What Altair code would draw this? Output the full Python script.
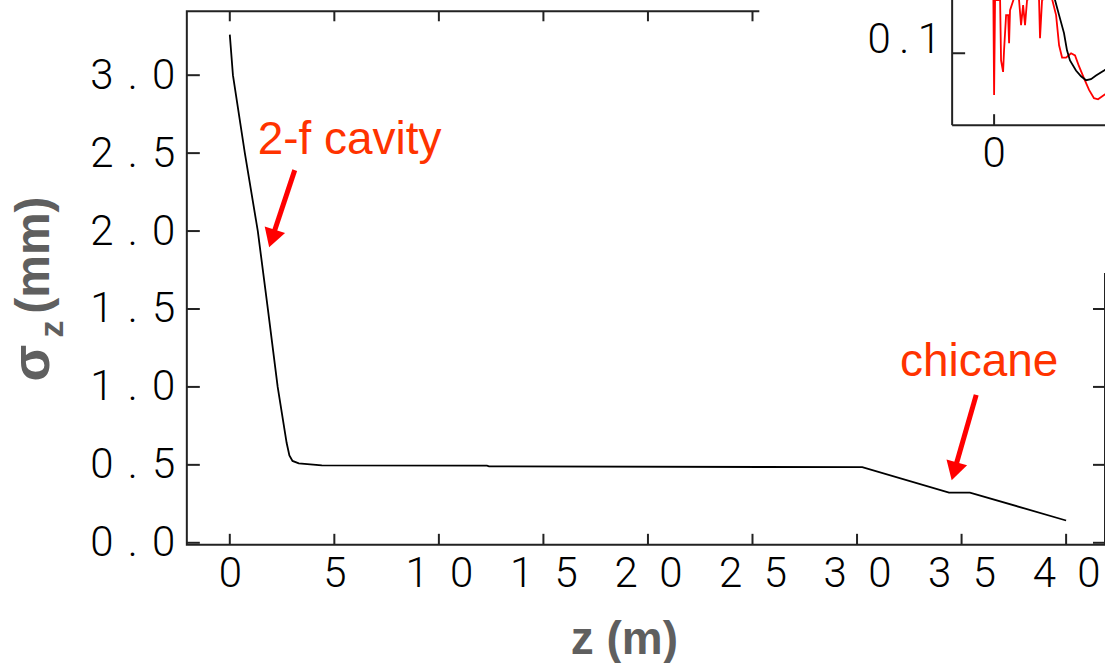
import altair as alt
import pandas as pd

# ---- main curve: bunch length along the beamline ----
z_vals = [0, 0.15, 0.72, 1.34, 1.82, 2.29, 2.72, 2.85, 3.0, 3.3, 4.4, 12.3, 12.4, 30.25, 34.4, 35.4, 40.0]
sigma_vals = [3.26, 3.0, 2.5, 2.0, 1.5, 1.0, 0.64, 0.56, 0.525, 0.51, 0.497, 0.495, 0.49, 0.485, 0.322, 0.322, 0.143]

x_ticks = [0, 5, 10, 15, 20, 25, 30, 35, 40]
y_ticks = [0.0, 0.5, 1.0, 1.5, 2.0, 2.5, 3.0]

# annotations (label, text position, arrow start, arrow head)
ann_labels = ["2-f cavity", "chicane"]
ann_z = [5.73, 35.84]
ann_s = [2.583, 1.160]
arrow_z0 = [3.106, 35.70]
arrow_s0 = [2.391, 0.949]
arrow_z1 = [2.065, 34.69]
arrow_s1 = [1.971, 0.478]

# ---- inset (partly off-page) ----
inset_red_x = [-0.083, -0.008, 0.0, 0.008, 0.05, 0.058, 0.075, 0.083, 0.1, 0.117, 0.125, 0.133, 0.175, 0.208,
               0.225, 0.242, 0.258, 0.275, 0.342, 0.375, 0.383, 0.4, 0.475, 0.517, 0.542, 0.567, 0.6, 0.642,
               0.675, 0.708, 0.75, 0.792, 0.833, 0.867, 0.917, 0.958]
inset_red_y = [0.215, 0.215, 0.042, 0.174, 0.174, 0.090, 0.074, 0.104, 0.153, 0.153, 0.114, 0.160, 0.181, 0.174,
               0.139, 0.167, 0.139, 0.174, 0.181, 0.174, 0.121, 0.174, 0.181, 0.153, 0.111, 0.094, 0.094, 0.100,
               0.097, 0.082, 0.065, 0.049, 0.0375, 0.036, 0.042, 0.046]
inset_black_x = [0.458, 0.508, 0.542, 0.583, 0.608, 0.633, 0.683, 0.725, 0.767, 0.808, 0.85, 0.917, 0.958]
inset_black_y = [0.215, 0.174, 0.153, 0.128, 0.104, 0.090, 0.076, 0.068, 0.0625, 0.064, 0.069, 0.076, 0.081]
inset_xtick = [0]
inset_ytick = [0.1]

X_DOM = [-2.055, 41.86]
Y_DOM = [-0.013, 3.41]
W, H = 919, 534
TICK_FONT = "Roboto"
TICK_W = 300
RED_TXT = "#ff3300"
GRAY = "#5f5f5f"
FRAME = "#222222"

curve_df = pd.DataFrame({"z": z_vals, "sigma": sigma_vals})
xt_df = pd.DataFrame({"t": x_ticks})
yt_df = pd.DataFrame({"t": y_ticks})
ann_df = pd.DataFrame({"label": ann_labels, "z": ann_z, "s": ann_s})
arr_df = pd.DataFrame({"z0": arrow_z0, "s0": arrow_s0, "z1": arrow_z1, "s1": arrow_s1})

xs = alt.Scale(domain=X_DOM, nice=False, zero=False)
ys = alt.Scale(domain=Y_DOM, nice=False, zero=False)

x_axis = alt.Axis(values=x_ticks, ticks=False, domain=False, grid=False, title=None,
                  labelFont=TICK_FONT, labelFontWeight=TICK_W, labelFontSize=42,
                  labelColor="black", labelPadding=9, labelBaseline="top",
                  labelFlush=False,
                  labelExpr="join(split(datum.label, ''), '\u2002')")
y_axis = alt.Axis(values=y_ticks, ticks=False, domain=False, grid=False, format=".1f", title=None,
                  labelFont=TICK_FONT, labelFontWeight=TICK_W, labelFontSize=42,
                  labelColor="black", labelPadding=12, labelBaseline="middle",
                  labelFlush=False,
                  labelExpr="join(split(datum.label, ''), '\u2004')")


def X(f):
    return alt.X(f, scale=xs, axis=x_axis, title=None)


def Y(f):
    return alt.Y(f, scale=ys, axis=y_axis, title=None)


curve = alt.Chart(curve_df).mark_line(color="black", strokeWidth=1.8).encode(
    x=X("z:Q"), y=Y("sigma:Q"))

tick_bottom = alt.Chart(xt_df).mark_rule(color=FRAME, strokeWidth=2).encode(
    x=X("t:Q"), y=alt.value(H), y2=alt.value(H - 11))
tick_top = alt.Chart(xt_df).mark_rule(color=FRAME, strokeWidth=2).encode(
    x=X("t:Q"), y=alt.value(0), y2=alt.value(10))
tick_left = alt.Chart(yt_df).mark_rule(color=FRAME, strokeWidth=2).encode(
    y=Y("t:Q"), x=alt.value(0), x2=alt.value(13))
tick_right = alt.Chart(yt_df).mark_rule(color=FRAME, strokeWidth=2).encode(
    y=Y("t:Q"), x=alt.value(W), x2=alt.value(W - 12))

arrows = alt.Chart(arr_df).mark_rule(color="#ff0000", strokeWidth=5).encode(
    x=X("z0:Q"), y=Y("s0:Q"), x2="z1:Q", y2="s1:Q")
head1 = alt.Chart(arr_df.iloc[[0]]).mark_point(shape="triangle", filled=True, opacity=1,
                                               color="#ff0000", size=460, angle=198).encode(
    x=X("z1:Q"), y=Y("s1:Q"))
head2 = alt.Chart(arr_df.iloc[[1]]).mark_point(shape="triangle", filled=True, opacity=1,
                                               color="#ff0000", size=460, angle=196).encode(
    x=X("z1:Q"), y=Y("s1:Q"))
ann_text = alt.Chart(ann_df).mark_text(font="Liberation Sans", fontSize=46, color=RED_TXT,
                                       align="center", baseline="middle").encode(
    x=X("z:Q"), y=Y("s:Q"), text="label:N")

title_df = pd.DataFrame({"a": [0]})
x_title = alt.Chart(title_df).mark_text(text="z (m)", font="Liberation Sans", fontWeight="bold",
                                        fontSize=46, color=GRAY, align="center",
                                        baseline="middle").encode(
    x=alt.value(438), y=alt.value(629))
y_title_mm = alt.Chart(title_df).mark_text(text="(mm)", font="Liberation Sans", fontWeight="bold",
                                           fontSize=48, color=GRAY, align="center", angle=270,
                                           baseline="middle").encode(
    x=alt.value(-152), y=alt.value(244))
y_title_sig = alt.Chart(title_df).mark_text(text="σ", font="Liberation Sans", fontWeight="bold",
                                            fontSize=54, color=GRAY, align="center", angle=270,
                                            baseline="middle").encode(
    x=alt.value(-154), y=alt.value(352))
y_title_z = alt.Chart(title_df).mark_text(text="z", font="Liberation Sans", fontWeight="bold",
                                          fontSize=34, color=GRAY, align="center", angle=270,
                                          baseline="middle").encode(
    x=alt.value(-134), y=alt.value(318))

main = alt.layer(curve, tick_bottom, tick_top, tick_left, tick_right, arrows, head1, head2,
                 ann_text, x_title, y_title_mm, y_title_sig, y_title_z)

# ---- inset layer with its own pixel-anchored scales ----
ixs = alt.Scale(domain=[-0.35, 1.0], range=[766, 928], nice=False, zero=False)
iys = alt.Scale(domain=[0, 0.22], range=[114, 114 - 0.22 * 720], nice=False, zero=False)

red_df = pd.DataFrame({"ix": inset_red_x, "iy": inset_red_y})
blk_df = pd.DataFrame({"ix": inset_black_x, "iy": inset_black_y})
ixt_df = pd.DataFrame({"v": inset_xtick})
iyt_df = pd.DataFrame({"v": inset_ytick})


def IX(f):
    return alt.X(f, scale=ixs, axis=None, title=None)


def IY(f):
    return alt.Y(f, scale=iys, axis=None, title=None)


inset_bg = alt.Chart(title_df).mark_rect(color="white").encode(
    x=alt.value(573), x2=alt.value(940), y=alt.value(-40), y2=alt.value(262))
red_line = alt.Chart(red_df).mark_line(color="#ff0000", strokeWidth=1.8).encode(
    x=IX("ix:Q"), y=IY("iy:Q"))
blk_line = alt.Chart(blk_df).mark_line(color="black", strokeWidth=1.8).encode(
    x=IX("ix:Q"), y=IY("iy:Q"))
inset_left = alt.Chart(title_df).mark_rule(color=FRAME, strokeWidth=2).encode(
    x=alt.value(766), y=alt.value(-40), y2=alt.value(114))
inset_bottom = alt.Chart(title_df).mark_rule(color=FRAME, strokeWidth=2).encode(
    x=alt.value(766), x2=alt.value(940), y=alt.value(114))
inset_xt = alt.Chart(ixt_df).mark_rule(color=FRAME, strokeWidth=2).encode(
    x=IX("v:Q"), y=alt.value(114), y2=alt.value(103))
inset_yt = alt.Chart(iyt_df).mark_rule(color=FRAME, strokeWidth=2).encode(
    y=IY("v:Q"), x=alt.value(766), x2=alt.value(779))
inset_xl = alt.Chart(ixt_df).transform_calculate(lab="format(datum.v, 'd')").mark_text(
    font=TICK_FONT, fontWeight=TICK_W, fontSize=42, color="black", align="center",
    baseline="middle").encode(
    x=IX("v:Q"), y=alt.value(143), text="lab:N")
inset_yl = alt.Chart(iyt_df).transform_calculate(
    lab="join(split(format(datum.v, '.1f'), ''), '\u2009')").mark_text(
    font=TICK_FONT, fontWeight=TICK_W, fontSize=42, color="black", align="right",
    baseline="alphabetic").encode(
    y=IY("v:Q"), x=alt.value(755), text="lab:N")

inset = alt.layer(inset_bg, red_line, blk_line, inset_left, inset_bottom, inset_xt, inset_yt,
                  inset_xl, inset_yl)

chart = alt.layer(main, inset).resolve_scale(x="independent", y="independent").properties(
    width=W, height=H,
    background="white",
    autosize=alt.AutoSizeParams(type="none"),
    padding={"left": 187, "top": 11, "right": 0, "bottom": 118},
).configure_view(stroke=FRAME, strokeWidth=2)

chart.save("out.html", embed_options={"renderer": "svg", "actions": False})
